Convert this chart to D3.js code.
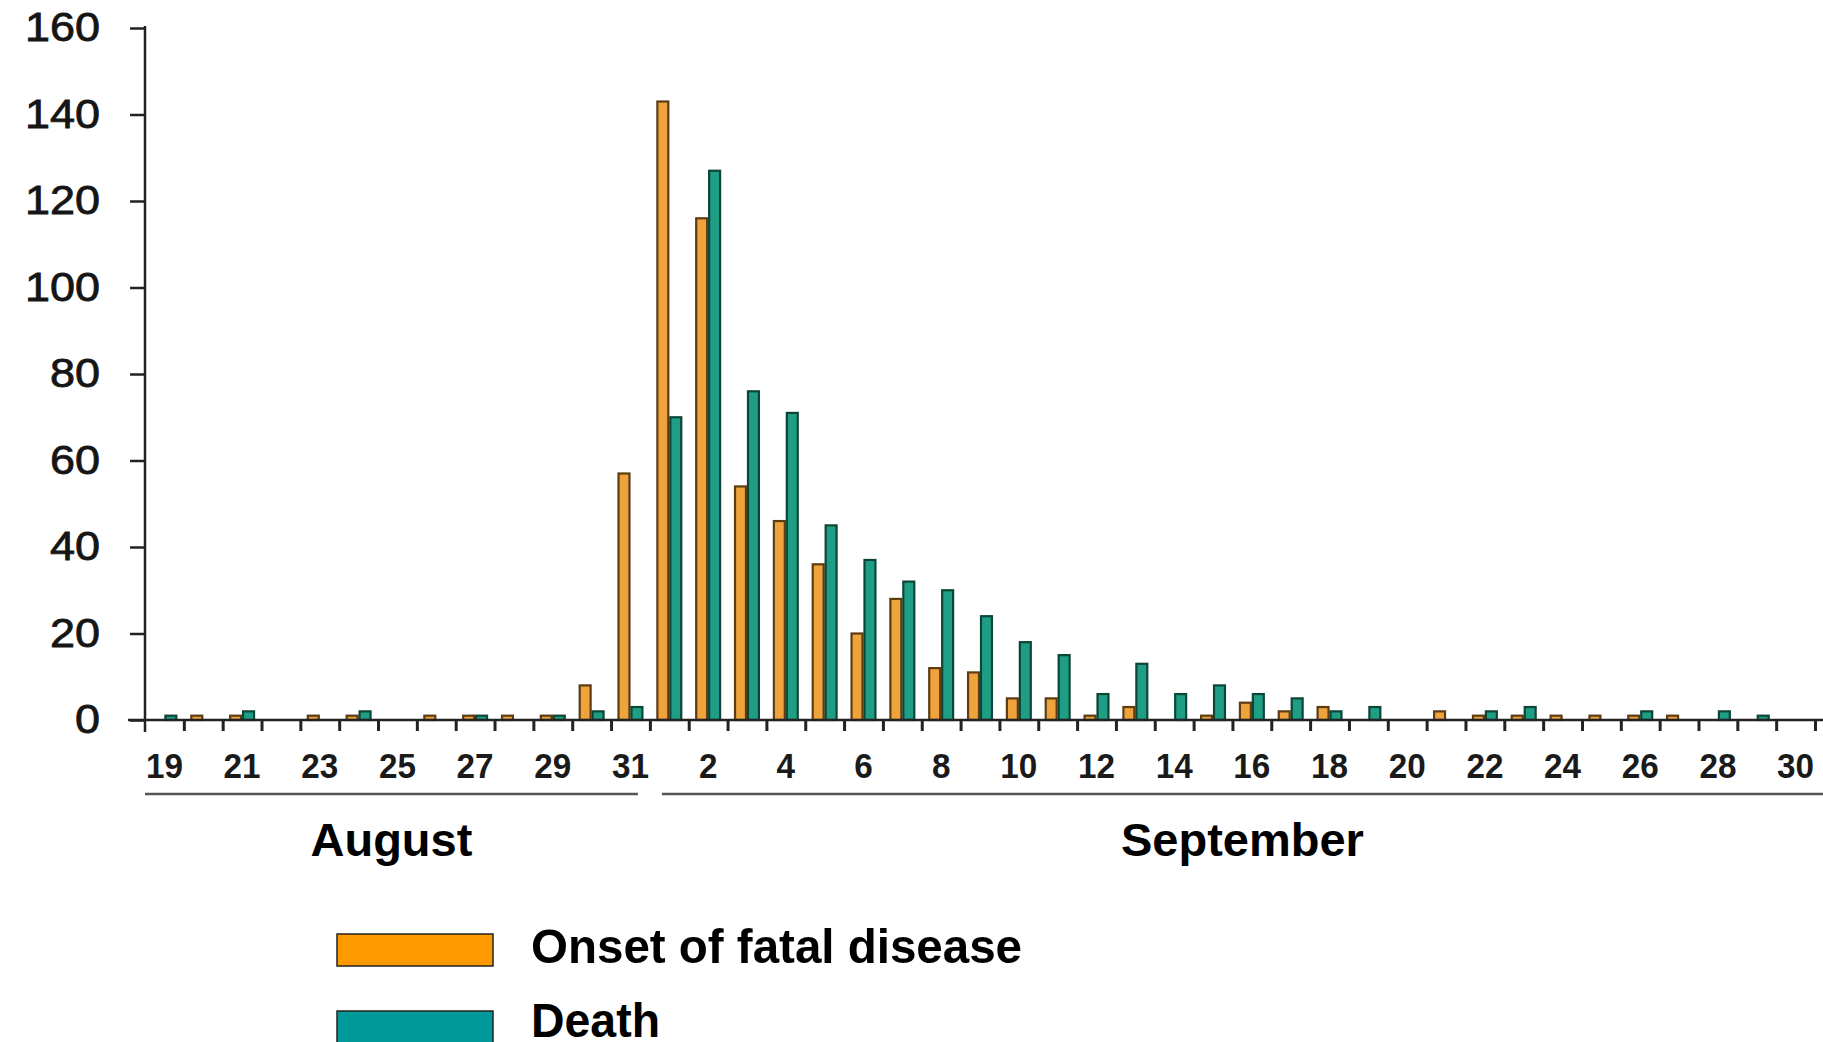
<!DOCTYPE html>
<html>
<head>
<meta charset="utf-8">
<script src="https://cdn.jsdelivr.net/npm/d3@7"></script>
<style>
  html, body { margin: 0; padding: 0; background: #fff; }
  svg { display: block; font-family: 'Liberation Sans', Arial, sans-serif; }
</style>
</head>
<body>
<div id="chart"></div>
<script>
// days shown on the x axis
const augustDays = [19, 20, 21, 22, 23, 24, 25, 26, 27, 28, 29, 30, 31];
const septemberDays = [1, 2, 3, 4, 5, 6, 7, 8, 9, 10, 11, 12, 13, 14, 15, 16, 17, 18, 19, 20,
  21, 22, 23, 24, 25, 26, 27, 28, 29, 30];
const monthNames = ['August', 'September'];

// values, Aug 19 .. Sep 30
const onsetValues = [0, 1, 1, 0, 1, 1, 0, 1, 1, 1, 1, 8, 57,
  143, 116, 54, 46, 36, 20, 28, 12, 11, 5, 5, 1, 3, 0, 1, 4, 2, 3, 0, 0, 2, 1, 1, 1, 1, 1, 1, 0, 0, 0];
const deathValues = [1, 0, 2, 0, 0, 2, 0, 0, 1, 0, 1, 2, 3,
  70, 127, 76, 71, 45, 37, 32, 30, 24, 18, 15, 6, 13, 6, 8, 6, 5, 2, 3, 0, 0, 2, 3, 0, 0, 2, 0, 2, 1, 0];

const yTicks = [0, 20, 40, 60, 80, 100, 120, 140, 160];
const seriesNames = ['Onset of fatal disease', 'Death'];
const seriesKeys = ['onset', 'death'];

const W = 1823, H = 1042;
const colors = { onset: '#eea33c', death: '#1f9e86' };
const strokes = { onset: '#5e3c12', death: '#0d4636' };
const legendColors = { onset: '#ff9900', death: '#009999' };

// build category table
const days = [
  ...augustDays.map(d => ({ key: 'Aug-' + d, day: d, month: monthNames[0] })),
  ...septemberDays.map(d => ({ key: 'Sep-' + d, day: d, month: monthNames[1] }))
];
const rows = days.map((d, i) => ({ ...d, onset: onsetValues[i], death: deathValues[i] }));

const svg = d3.select('#chart').append('svg')
  .attr('width', W).attr('height', H);

const x0 = d3.scaleBand()
  .domain(days.map(d => d.key))
  .range([145, 1815])
  .paddingInner(0).paddingOuter(0);

const x1 = d3.scaleBand()
  .domain(seriesKeys)
  .range([0, x0.bandwidth()])
  .paddingInner(0).paddingOuter(0.5);

const y = d3.scaleLinear().domain([0, 160]).range([720, 28]);

// bars
const groups = svg.append('g').attr('class', 'bars')
  .selectAll('g')
  .data(rows)
  .join('g')
  .attr('transform', d => `translate(${x0(d.key)},0)`);

groups.selectAll('rect')
  .data(d => seriesKeys.map(k => ({ key: k, value: d[k] })).filter(v => v.value > 0))
  .join('rect')
  .attr('x', d => x1(d.key) + 1)
  .attr('width', x1.bandwidth() - 2)
  .attr('y', d => y(d.value))
  .attr('height', d => y(0) - y(d.value))
  .attr('fill', d => colors[d.key])
  .attr('stroke', d => strokes[d.key])
  .attr('stroke-width', 2.2);

// y axis
const yAxis = svg.append('g')
  .attr('transform', 'translate(145,0)')
  .call(d3.axisLeft(y).tickValues(yTicks).tickSize(15).tickPadding(30));
yAxis.select('.domain').remove();
yAxis.selectAll('.tick line').attr('stroke', '#222').attr('stroke-width', 2.5);
yAxis.selectAll('.tick text')
  .attr('font-size', 40)
  .attr('fill', '#151515')
  .attr('stroke', '#151515').attr('stroke-width', 0.8)
  .attr('textLength', d => String(d).length * 25)
  .attr('lengthAdjust', 'spacingAndGlyphs')
  .attr('font-family', "'Liberation Sans', Arial, sans-serif");

svg.append('line')
  .attr('x1', 145).attr('x2', 145)
  .attr('y1', y(160) - 2).attr('y2', y(0) + 12)
  .attr('stroke', '#222').attr('stroke-width', 2.5);

// x axis baseline
svg.append('line')
  .attr('x1', 128).attr('x2', W)
  .attr('y1', y(0)).attr('y2', y(0))
  .attr('stroke', '#222').attr('stroke-width', 2.5);

// ticks at day boundaries
const xi = d3.scaleLinear().domain([0, days.length]).range(x0.range());
const tickAxis = svg.append('g')
  .attr('transform', `translate(0,${y(0)})`)
  .call(d3.axisBottom(xi).tickValues(d3.range(1, days.length + 1)).tickSize(11).tickFormat(''));
tickAxis.select('.domain').remove();
tickAxis.selectAll('.tick line').attr('stroke', '#222').attr('stroke-width', 3);

// day labels, every other day
const labelAxis = svg.append('g')
  .attr('transform', `translate(0,${y(0)})`)
  .call(d3.axisBottom(x0)
    .tickValues(days.filter((d, i) => i % 2 === 0).map(d => d.key))
    .tickSize(0).tickPadding(33)
    .tickFormat(k => days.find(d => d.key === k).day));
labelAxis.select('.domain').remove();
labelAxis.selectAll('.tick text')
  .attr('font-size', 35)
  .attr('font-weight', 'bold')
  .attr('fill', '#1a1a1a')
  .attr('textLength', k => String(days.find(d => d.key === k).day).length * 18.5)
  .attr('lengthAdjust', 'spacingAndGlyphs')
  .attr('font-family', "'Liberation Sans', Arial, sans-serif");

// month underlines and names
const monthSpans = monthNames.map(m => {
  const ks = days.filter(d => d.month === m).map(d => d.key);
  return { name: m, x1: x0(ks[0]), x2: x0(ks[ks.length - 1]) + x0.bandwidth() };
});
const gap = 12;
monthSpans[0].lx1 = monthSpans[0].x1;
monthSpans[0].lx2 = monthSpans[0].x2 - gap;
monthSpans[1].lx1 = monthSpans[1].x1 + gap;
monthSpans[1].lx2 = W;

svg.append('g').selectAll('line')
  .data(monthSpans)
  .join('line')
  .attr('x1', d => d.lx1).attr('x2', d => d.lx2)
  .attr('y1', 794).attr('y2', 794)
  .attr('stroke', '#555').attr('stroke-width', 2.5);

svg.append('g').selectAll('text')
  .data(monthSpans)
  .join('text')
  .attr('x', d => (d.lx1 + d.lx2) / 2)
  .attr('y', 856)
  .attr('text-anchor', 'middle')
  .attr('font-size', 47)
  .attr('font-weight', 'bold')
  .attr('fill', '#000')
  .text(d => d.name);

// legend
const legend = svg.append('g').selectAll('g')
  .data(seriesKeys.map((k, i) => ({ key: k, name: seriesNames[i], i })))
  .join('g')
  .attr('transform', d => `translate(337,${934 + d.i * 77})`);

legend.append('rect')
  .attr('width', 156).attr('height', 32)
  .attr('fill', d => legendColors[d.key])
  .attr('stroke', '#222').attr('stroke-width', 1.5);

legend.append('text')
  .attr('x', 194).attr('y', d => d.i === 0 ? 29 : 26)
  .attr('font-size', 49)
  .attr('font-weight', 'bold')
  .attr('fill', '#000')
  .attr('textLength', d => d.key === 'onset' ? 491 : 129)
  .attr('lengthAdjust', 'spacingAndGlyphs')
  .text(d => d.name);
</script>
</body>
</html>
